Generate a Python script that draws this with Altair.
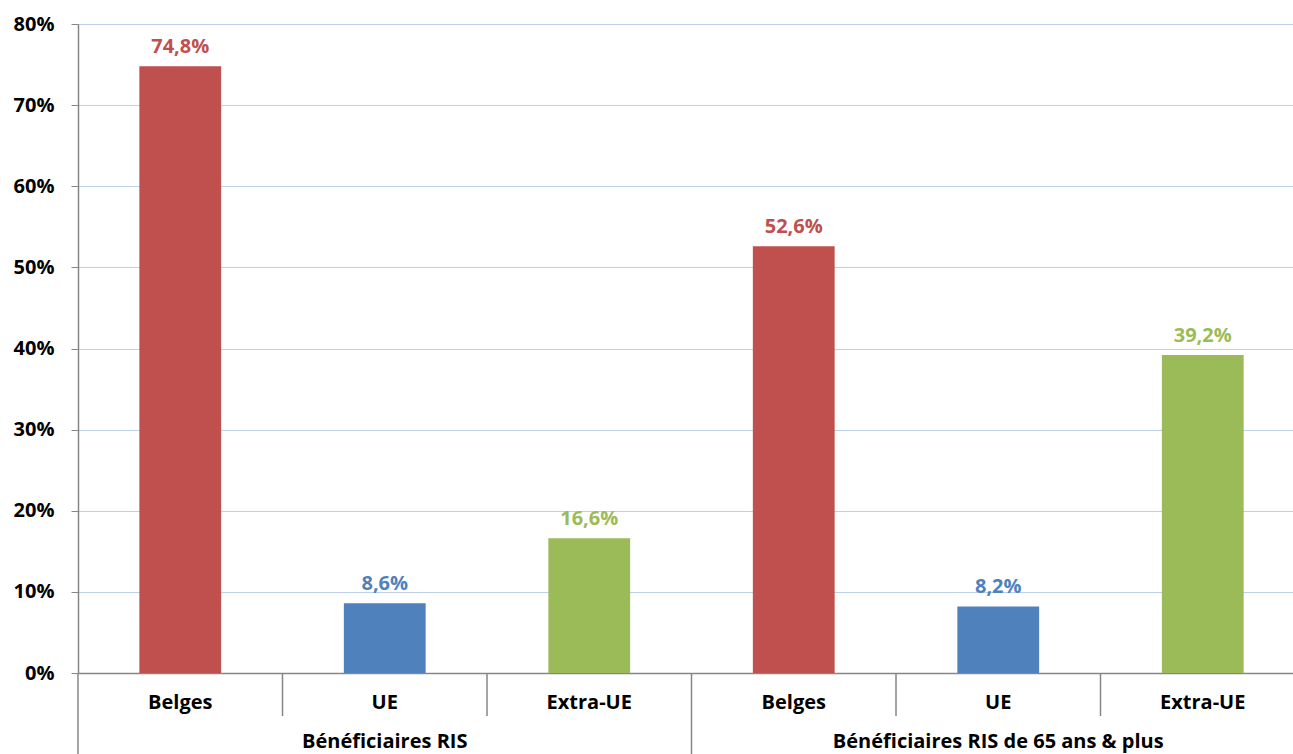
import altair as alt
import pandas as pd

groups = ["Bénéficiaires RIS"] * 3 + ["Bénéficiaires RIS de 65 ans & plus"] * 3
origins = ["Belges", "UE", "Extra-UE"] * 2
values = [0.748, 0.086, 0.166, 0.526, 0.082, 0.392]
origin_colors = ["#C0504D", "#4F81BD", "#9BBB59"]
y_ticks = [0, 0.1, 0.2, 0.3, 0.4, 0.5, 0.6, 0.7, 0.8]

keys = [f"{g}|{o}" for g, o in zip(groups, origins)]
df = pd.DataFrame({"key": keys, "groupe": groups, "origine": origins, "valeur": values})

# separators between categories (short) and between groups (long)
short_sep = pd.DataFrame({"key": [keys[1], keys[2], keys[4], keys[5]]})
long_sep = pd.DataFrame({"key": [keys[0], keys[3]]})
group_lbl = pd.DataFrame({"key": [keys[1], keys[4]], "groupe": [groups[0], groups[3]]})

W, H = 1215, 649
FONT = "Open Sans"
FS = 20

xscale = alt.Scale(domain=keys, range=[0, 1227], paddingInner=0, paddingOuter=0)
xenc = alt.X(
    "key:N",
    scale=xscale,
    sort=keys,
    axis=alt.Axis(
        title=None,
        labelExpr="split(datum.label, '|')[1]",
        labelAngle=0,
        ticks=False,
        labelBaseline="alphabetic",
        labelPadding=35,
        labelFontSize=FS,
        labelFontWeight="bold",
        labelColor="#000000",
        labelFont=FONT,
        domainColor="#868686",
        domainWidth=1.5,
        grid=False,
    ),
)
color_scale = alt.Scale(domain=["Belges", "UE", "Extra-UE"], range=origin_colors)

bars = alt.Chart(df).mark_bar(width={"band": 0.4}).encode(
    x=xenc,
    y=alt.Y(
        "valeur:Q",
        scale=alt.Scale(domain=[0, 0.8], nice=False),
        axis=alt.Axis(
            title=None,
            values=y_ticks,
            format=".0%",
            labelFontSize=FS,
            labelFontWeight="bold",
            labelColor="#000000",
            labelFont=FONT,
            labelPadding=17,
            tickSize=7,
            tickColor="#868686",
            domainColor="#868686",
            domainWidth=1.5,
            gridColor="#BCD0E8",
            gridWidth=1,
        ),
    ),
    color=alt.Color("origine:N", scale=color_scale, legend=None),
)

labels = alt.Chart(df).transform_calculate(
    txt="replace(format(datum.valeur, '.1%'), '.', ',')"
).mark_text(
    baseline="alphabetic", dy=-13, fontSize=FS, fontWeight="bold", font=FONT
).encode(
    x=alt.X("key:N", sort=keys),
    y=alt.Y("valeur:Q"),
    text="txt:N",
    color=alt.Color("origine:N", scale=color_scale, legend=None),
)

seps_short = alt.Chart(short_sep).mark_rule(color="#868686", strokeWidth=1.5).encode(
    x=alt.X("key:N", sort=keys, bandPosition=0),
    y=alt.value(H),
    y2=alt.value(H + 43),
)
seps_long = alt.Chart(long_sep).mark_rule(color="#868686", strokeWidth=1.5).encode(
    x=alt.X("key:N", sort=keys, bandPosition=0),
    y=alt.value(H),
    y2=alt.value(H + 81),
)
grp_text = alt.Chart(group_lbl).mark_text(
    baseline="alphabetic", fontSize=FS, fontWeight="bold", font=FONT, color="#000000"
).encode(
    x=alt.X("key:N", sort=keys),
    y=alt.value(H + 75),
    text="groupe:N",
)

chart = alt.layer(bars, labels, seps_short, seps_long, grp_text).properties(
    width=W,
    height=H,
    autosize=alt.AutoSizeParams(type="none"),
    padding={"left": 78, "top": 24, "right": 0, "bottom": 81},
    background="white",
).configure_view(stroke=None)

chart.save("out.html", embed_options={"renderer": "svg", "actions": False})
